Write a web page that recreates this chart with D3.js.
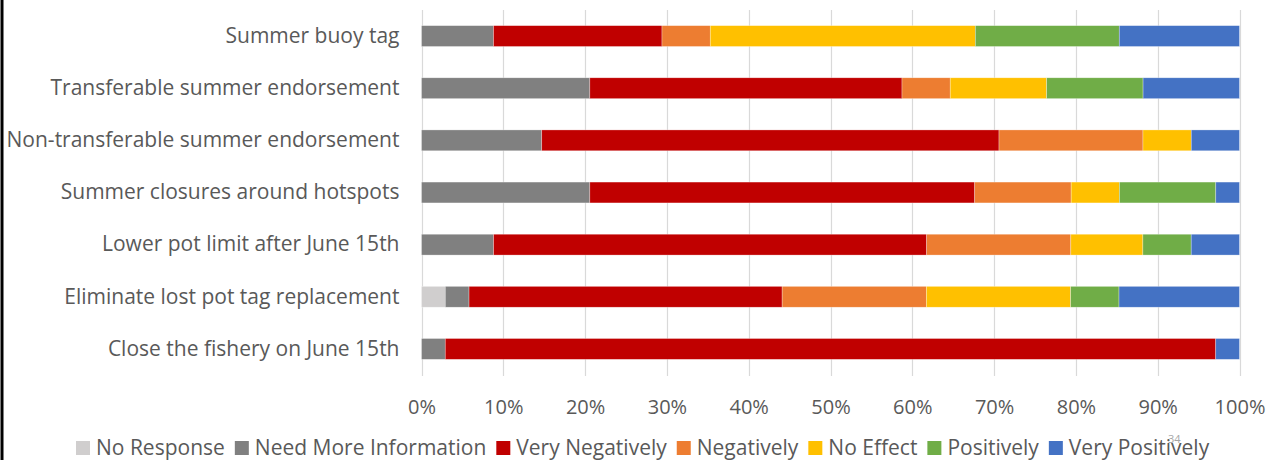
<!DOCTYPE html>
<html>
<head>
<meta charset="utf-8">
<script src="https://cdn.jsdelivr.net/npm/d3@7"></script>
<style>
  body { margin: 0; background: #fff; }
  text { font-family: 'Open Sans', Lato, sans-serif; fill: #595959; }
</style>
</head>
<body>
<div class="chart"></div>
<script>
const categories = [
  'Summer buoy tag',
  'Transferable summer endorsement',
  'Non-transferable summer endorsement',
  'Summer closures around hotspots',
  'Lower pot limit after June 15th',
  'Eliminate lost pot tag replacement',
  'Close the fishery on June 15th'
]

// percent of respondents, one value per category (top to bottom)
const noResponse = [0, 0, 0, 0, 0, 2.9, 0]
const needMoreInfo = [8.8, 20.6, 14.7, 20.6, 8.8, 2.9, 2.9]
const veryNegatively = [20.6, 38.2, 55.9, 47.1, 52.9, 38.2, 94.1]
const negatively = [5.9, 5.9, 17.6, 11.8, 17.6, 17.6, 0]
const noEffect = [32.4, 11.8, 5.9, 5.9, 8.8, 17.6, 0]
const positively = [17.6, 11.8, 0, 11.8, 5.9, 5.9, 0]
const veryPositively = [14.7, 11.8, 5.9, 2.9, 5.9, 14.7, 2.9]

const seriesNames = ['No Response', 'Need More Information', 'Very Negatively', 'Negatively', 'No Effect', 'Positively', 'Very Positively']
const seriesValues = [noResponse, needMoreInfo, veryNegatively, negatively, noEffect, positively, veryPositively]
const colors = ['#d0cece', '#808080', '#c00000', '#ed7d31', '#ffc000', '#70ad47', '#4472c4']

const width = 1276
const height = 460
const plotLeft = 421.5
const plotRight = 1239.5
const plotTop = 10
const plotBottom = 375
const fontFamily = "'Open Sans', Lato, sans-serif"

const rows = categories.map((c, i) => {
  const r = { category: c }
  seriesNames.forEach((s, j) => { r[s] = seriesValues[j][i] })
  return r
})

const stacked = d3.stack()
  .keys(seriesNames)
  .offset(d3.stackOffsetExpand)(rows)

const x = d3.scaleLinear().domain([0, 1]).range([plotLeft, plotRight])
const y = d3.scaleBand()
  .domain(categories)
  .range([plotTop, plotBottom])
  .paddingInner(0.6)
  .paddingOuter(0.3)

const color = d3.scaleOrdinal().domain(seriesNames).range(colors)

const svg = d3.select('.chart')
  .append('svg')
  .attr('width', width)
  .attr('height', height)

svg.append('rect')
  .attr('width', width)
  .attr('height', height)
  .attr('fill', '#fff')

// left frame edge
svg.append('line')
  .attr('x1', 2).attr('x2', 2)
  .attr('y1', 0).attr('y2', height)
  .attr('stroke', '#000')
  .attr('stroke-width', 3)

// gridlines
svg.append('g')
  .selectAll('line')
  .data(x.ticks(10))
  .join('line')
  .attr('x1', (d) => Math.round(x(d)) + 0.5)
  .attr('x2', (d) => Math.round(x(d)) + 0.5)
  .attr('y1', plotTop)
  .attr('y2', plotBottom + 1)
  .attr('stroke', '#d9d9d9')
  .attr('stroke-width', 1.2)

// bars
svg.append('g')
  .selectAll('g')
  .data(stacked)
  .join('g')
  .attr('fill', (d) => color(d.key))
  .selectAll('rect')
  .data((d) => d)
  .join('rect')
  .attr('x', (d) => x(d[0]))
  .attr('y', (d) => y(d.data.category))
  .attr('width', (d) => Math.max(0, x(d[1]) - x(d[0])))
  .attr('height', y.bandwidth())
  .attr('stroke', '#fff')
  .attr('stroke-opacity', 0.5)
  .attr('stroke-width', 0.6)

// category labels
const yAxis = svg.append('g')
  .attr('transform', `translate(${plotLeft},0)`)
  .call(d3.axisLeft(y).tickSize(0).tickPadding(22))
yAxis.select('.domain').remove()
yAxis.selectAll('text')
  .attr('font-size', 21)
  .style('font-family', fontFamily)
  .attr('fill', '#595959')

// percent labels
const xAxis = svg.append('g')
  .attr('transform', 'translate(0,400)')
  .call(d3.axisBottom(x).ticks(10).tickFormat(d3.format('.0%')).tickSize(0).tickPadding(0))
xAxis.select('.domain').remove()
xAxis.selectAll('text')
  .attr('font-size', 20)
  .style('font-family', fontFamily)
  .attr('fill', '#595959')

// legend
const legend = svg.append('g').attr('transform', 'translate(76,0)')
let lx = 0
seriesNames.forEach((name) => {
  const item = legend.append('g').attr('transform', `translate(${lx},0)`)
  item.append('rect')
    .attr('x', 0)
    .attr('y', 441)
    .attr('width', 14)
    .attr('height', 14)
    .attr('fill', color(name))
  const t = item.append('text')
    .attr('x', 20)
    .attr('y', 455)
    .attr('font-size', 21)
    .text(name)
  lx += 20 + t.node().getComputedTextLength() + 10
})

// slide page number
svg.append('text')
  .attr('x', 1168)
  .attr('y', 443)
  .attr('font-size', 11)
  .style('fill', '#a6a6a6')
  .text('34')
</script>
</body>
</html>
